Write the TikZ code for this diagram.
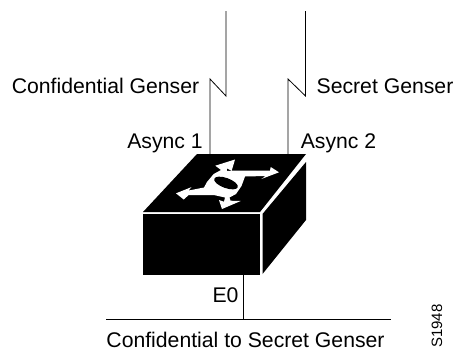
\documentclass[tikz,border=0pt]{standalone}
\usepackage{fontspec}
\setmainfont{Liberation Sans}
\usetikzlibrary{positioning,calc}
\tikzset{
    wire/.style={black, line width=0.8pt},
    lbl/.style={inner sep=0pt, anchor=base, font=\fontsize{21.2}{24}\selectfont, text=black},
    boxface/.style={fill=black, draw=none},
    emblem/.style={fill=white, draw=none}
}

\begin{document}
\begin{tikzpicture}[x=1pt, y=-1pt]
        \useasboundingbox (0,0) rectangle (453,349);
        % box
        \fill[boxface] (197,154) -- (306,154) -- (260,212) -- (143,212) -- cycle;
        \fill[boxface] (143,214) rectangle (259.5,275);
        \fill[boxface] (306,162) -- (306,220) -- (262.5,274) -- (262.5,214) -- cycle;
        % arrows on the lid
        \fill[emblem] (176,193.3) -- (191.3,187.2) -- (188.7,190.5) -- (204,187.5) -- (207,182) -- (213.7,174)
            -- (221,170) -- (215.3,165.7) -- (235,159.5) -- (231.7,170.7) -- (226.7,168.3) -- (227,171)
            -- (236,170.5) -- (270,170.5) -- (270.7,167) -- (279,172.3) -- (261.3,179) -- (265.7,176)
            -- (245,176.5) -- (241.5,186) -- (236,194) -- (229.5,197.5) -- (230.5,200.7) -- (240.7,201)
            -- (222,209) -- (219,200) -- (224,201.7) -- (225,197.5) -- (213.7,195) -- (188.7,195)
            -- (183.7,199.5) -- cycle;
        \fill[boxface] (226,183) ellipse [x radius=12.5, y radius=5, rotate=-20];
        % coordinates for the lines
        \coordinate (topA) at (226,11);
        \coordinate (kinkA) at (226,96);
        \coordinate (backA) at (210,79);
        \coordinate (portA) at (210,154);
        \coordinate (topB) at (305.5,11);
        \coordinate (kinkB) at (305.5,96);
        \coordinate (backB) at (288,79);
        \coordinate (portB) at (288,154);
        \coordinate (portE) at (243,275);
        \coordinate (busE) at (243,319);
        \coordinate (busL) at (106,319);
        \coordinate (busR) at (391,319);

        \draw[wire] (topA) -- (kinkA) -- (backA) -- (portA);
        \draw[wire] (topB) -- (kinkB) -- (backB) -- (portB);
        \draw[wire] (portE) -- (busE);
        \draw[wire] (busL) -- (busR);

        \node[lbl] (genserA) at (105.5,93) {Confidential Genser};
        \node[lbl] (genserB) at (385,93) {Secret Genser};
        \node[lbl] (asyncA) at (165,148) {Async 1};
        \node[lbl] (asyncB) at (338.5,148) {Async 2};
        \node[lbl] (eth) at (225.5,302) {E0};
        \node[lbl] (busname) at (245.5,347) {Confidential to Secret Genser};
        \node[lbl, rotate=90, font=\fontsize{15}{17}\selectfont] (figid) at (442,326) {S1948};
    \end{tikzpicture}
\end{document}
